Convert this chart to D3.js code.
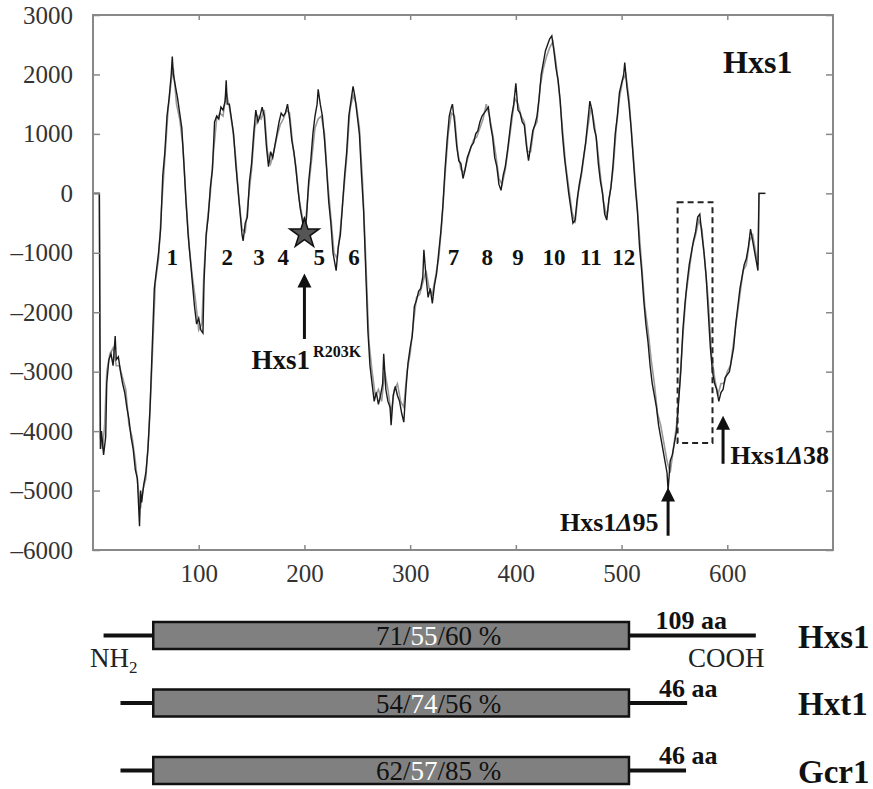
<!DOCTYPE html>
<html>
<head>
<meta charset="utf-8">
<script src="https://cdn.jsdelivr.net/npm/d3@7"></script>
<style>
  body { margin: 0; background: #fff; }
  svg text { font-family: "Liberation Serif", "Times New Roman", Times, serif; }
</style>
</head>
<body>
<div id="chart"></div>
<script>
// hydropathy profile, black trace (residue position / value)
const blackPos = [0, 6, 7, 8, 10, 12, 13, 15, 17, 19, 21, 22, 24, 26, 28, 30, 32, 34, 36, 38, 40, 42, 43, 44, 45, 46, 48, 50, 52, 54, 56, 58, 60, 62, 64, 66, 68, 70, 72, 74, 75, 76, 78, 80, 82, 84, 86, 88, 90, 92, 94, 96, 98, 100, 102, 104, 105, 107, 109, 111, 113, 115, 117, 119, 121, 123, 125, 126, 127, 129, 131, 133, 135, 137, 139, 141, 142, 144, 146, 148, 150, 152, 154, 156, 158, 160, 162, 164, 166, 168, 170, 172, 174, 176, 178, 180, 182, 184, 186, 188, 190, 192, 194, 196, 198, 200, 202, 204, 206, 208, 210, 212, 213, 215, 217, 219, 221, 223, 225, 227, 229, 230, 232, 234, 236, 238, 240, 242, 244, 246, 248, 250, 252, 254, 256, 258, 260, 262, 264, 266, 268, 270, 272, 274, 275, 277, 279, 281, 282, 284, 286, 288, 290, 292, 294, 296, 298, 300, 302, 304, 306, 308, 310, 312, 313, 315, 317, 319, 321, 323, 325, 327, 329, 331, 333, 335, 337, 339, 340, 342, 344, 346, 348, 350, 352, 354, 356, 358, 360, 362, 364, 366, 368, 370, 372, 374, 376, 378, 380, 382, 384, 386, 388, 390, 392, 394, 396, 398, 400, 402, 404, 406, 408, 410, 412, 414, 416, 418, 420, 422, 424, 426, 428, 430, 432, 434, 436, 438, 440, 442, 444, 446, 448, 450, 452, 454, 456, 458, 460, 462, 464, 466, 468, 470, 472, 474, 476, 478, 480, 482, 484, 486, 488, 490, 492, 494, 496, 498, 500, 502, 503, 505, 507, 509, 511, 513, 515, 517, 519, 521, 523, 525, 527, 529, 531, 533, 535, 537, 539, 541, 543, 544, 546, 548, 550, 552, 554, 556, 558, 560, 562, 564, 566, 568, 570, 572, 574, 576, 578, 580, 582, 584, 586, 588, 590, 592, 594, 596, 598, 600, 602, 604, 606, 608, 610, 612, 614, 616, 618, 620, 622, 624, 626, 628, 629, 630, 636];
const blackVal = [0, 0, -4300, -4000, -4400, -4100, -3200, -2800, -2700, -2900, -2400, -2800, -2750, -3000, -3200, -3350, -3600, -3800, -4100, -4300, -4650, -4800, -5200, -5600, -5000, -5200, -4900, -4700, -4300, -3600, -2600, -1600, -1300, -1000, -600, 300, 700, 1300, 1600, 2000, 2300, 2000, 1800, 1600, 1350, 1100, 500, -150, -700, -1100, -1500, -1900, -2200, -2100, -2300, -2350, -1500, -700, -400, 100, 400, 1200, 1300, 1250, 1450, 1400, 1550, 1900, 1500, 1500, 1250, 1000, 500, 100, -300, -700, -800, -500, -400, 200, 500, 1000, 1400, 1200, 1300, 1450, 1300, 800, 450, 700, 600, 800, 1000, 1200, 1350, 1300, 1350, 1500, 1250, 900, 700, 400, 50, -250, -450, -700, -400, 200, 550, 1000, 1300, 1500, 1750, 1500, 1300, 900, 400, -150, -500, -1000, -1200, -1300, -900, -700, -200, 300, 700, 1300, 1550, 1800, 1600, 1300, 1000, 300, -300, -1300, -2300, -2900, -3200, -3500, -3350, -3550, -3400, -3200, -2700, -3300, -3500, -3600, -3900, -3400, -3250, -3400, -3500, -3700, -3850, -3300, -2850, -2600, -2400, -1900, -1800, -1650, -1600, -1400, -950, -1400, -1750, -1600, -1850, -1550, -1350, -1000, -650, -200, 400, 900, 1300, 1450, 1500, 1200, 800, 550, 500, 250, 400, 600, 700, 800, 850, 1000, 1050, 1200, 1300, 1350, 1400, 1450, 1150, 950, 600, 450, 150, 50, 300, 450, 700, 1000, 1300, 1500, 1850, 1400, 1350, 1200, 1150, 800, 550, 800, 1050, 1150, 1300, 1600, 2000, 2200, 2400, 2500, 2600, 2650, 2400, 2100, 1900, 1550, 1000, 600, 300, 0, -250, -500, -450, -100, 150, 350, 600, 850, 1200, 1550, 1400, 1100, 950, 500, 200, 0, -350, -450, -100, 100, 500, 1000, 1300, 1700, 1850, 2000, 2200, 1800, 1500, 1100, 600, 100, -300, -900, -1300, -1800, -2200, -2500, -2900, -3200, -3400, -3600, -3900, -4100, -4300, -4500, -4700, -5000, -4500, -4400, -4200, -4000, -3500, -3000, -2300, -1850, -1500, -1200, -1000, -800, -650, -400, -350, -700, -1000, -1400, -2000, -2600, -3000, -3200, -3300, -3500, -3350, -3300, -3100, -3050, -3000, -2800, -2600, -2200, -1900, -1600, -1400, -1200, -1100, -900, -600, -800, -1000, -1200, -1300, 0, 0];

// second (gray) trace
const grayPos = [0, 6, 7, 9, 11, 13, 16, 19, 22, 25, 28, 31, 34, 37, 40, 43, 45, 47, 50, 53, 56, 59, 62, 65, 68, 71, 74, 76, 79, 82, 85, 88, 91, 94, 97, 100, 103, 105, 108, 111, 114, 117, 120, 123, 126, 129, 132, 135, 138, 141, 144, 147, 150, 153, 156, 159, 162, 165, 168, 171, 174, 177, 180, 183, 186, 189, 192, 195, 198, 201, 204, 207, 210, 213, 216, 219, 222, 225, 228, 231, 234, 237, 240, 243, 246, 249, 252, 255, 258, 261, 264, 267, 270, 273, 276, 279, 282, 285, 288, 291, 294, 297, 300, 303, 306, 309, 312, 315, 318, 321, 324, 327, 330, 333, 336, 339, 342, 345, 348, 351, 354, 357, 360, 363, 366, 369, 372, 375, 378, 381, 384, 387, 390, 393, 396, 399, 402, 405, 408, 411, 414, 417, 420, 423, 426, 429, 432, 435, 438, 441, 444, 447, 450, 453, 456, 459, 462, 465, 468, 471, 474, 477, 480, 483, 486, 489, 492, 495, 498, 501, 504, 507, 510, 513, 516, 519, 522, 525, 528, 531, 534, 537, 540, 543, 546, 549, 552, 555, 558, 561, 564, 567, 570, 573, 576, 579, 582, 585, 588, 591, 594, 597, 600, 603, 606, 609, 612, 615, 618, 621, 624, 627, 629, 630, 636];
const grayVal = [0, 0, -4100, -4300, -3900, -3000, -2700, -2600, -2900, -2900, -3100, -3300, -3900, -4100, -4500, -5000, -5300, -5000, -4800, -4000, -2800, -1500, -1100, -200, 600, 1400, 1900, 2100, 1500, 1250, 800, -100, -900, -1400, -1800, -2300, -2200, -1300, -500, 0, 700, 1250, 1350, 1300, 1700, 1450, 1100, 600, -100, -600, -650, -100, 400, 1100, 1300, 1250, 1400, 700, 500, 700, 950, 1150, 1250, 1400, 1350, 800, 450, -100, -400, -500, 100, 600, 1100, 1250, 1300, 1000, 200, -400, -1000, -1100, -600, 0, 600, 1400, 1650, 1500, 1100, 200, -1100, -2500, -3000, -3400, -3300, -3500, -3000, -3300, -3700, -3300, -3200, -3500, -3600, -3000, -2700, -2200, -1750, -1700, -1500, -1300, -1600, -1700, -1400, -1100, -500, 300, 1000, 1350, 1300, 700, 400, 350, 550, 750, 900, 950, 1100, 1250, 1500, 1300, 1000, 650, 250, 150, 400, 800, 1200, 1600, 1500, 1300, 1200, 700, 700, 1100, 1200, 1800, 2100, 2300, 2450, 2550, 2200, 1700, 1100, 500, 100, -300, -500, 0, 300, 700, 1100, 1450, 1200, 800, 300, -150, -400, 0, 400, 1100, 1600, 1900, 2000, 1600, 900, 200, -500, -1200, -1900, -2300, -2800, -3200, -3700, -3900, -4200, -4500, -4700, -4300, -3900, -3200, -2400, -1700, -1300, -900, -700, -450, -600, -1200, -1800, -2700, -3100, -3400, -3200, -3200, -3000, -2900, -2500, -2100, -1700, -1300, -1200, -800, -700, -1000, -1200, 0, 0];

const xTicks = [100, 200, 300, 400, 500, 600];
const yTicks = [3000, 2000, 1000, 0, -1000, -2000, -3000, -4000, -5000, -6000];

// transmembrane segment labels and their positions
const helixLabels = ['1', '2', '3', '4', '5', '6', '7', '8', '9', '10', '11', '12'];
const helixPos = [75, 127, 157, 180, 214, 247, 341, 373, 402, 436, 471, 502];
const helixLabelValue = -1200;

// mutation / truncation marks
const star = { pos: 200, value: -680 };
const arrows = [
  { pos: 200, from: -2450, to: -1350 },
  { pos: 544, from: -5760, to: -4950 },
  { pos: 596, from: -4550, to: -3740 },
];
const dashBox = { x0: 553, x1: 586, y0: -150, y1: -4200 };

// domain diagrams: N-term start, TM start, TM end, C-term end
const proteins = ['Hxs1', 'Hxt1', 'Gcr1'];
const domainStart = [10, 26, 26];
const tmStart = [57, 57, 57];
const tmEnd = [507, 507, 507];
const domainEnd = [627, 562, 561];
const identity = [['71/', '55', '/60 %'], ['54/', '74', '/56 %'], ['62/', '57', '/85 %']];
const tailLabels = ['109 aa', '46 aa', '46 aa'];

const W = 873, H = 789;
const margin = { top: 15, right: 40, bottom: 239, left: 93 };
const width = W - margin.left - margin.right;
const height = H - margin.top - margin.bottom;
const serif = '"Liberation Serif", "Times New Roman", Times, serif';

const svg = d3.select('#chart').append('svg')
  .attr('width', W)
  .attr('height', H)
  .attr('font-family', serif);

const x = d3.scaleLinear().domain([0, 700]).range([margin.left, margin.left + width]);
const y = d3.scaleLinear().domain([-6000, 3000]).range([margin.top + height, margin.top]);

const line = d3.line()
  .x((d) => x(d[0]))
  .y((d) => y(d[1]));

const plot = svg.append('g');

plot.append('path')
  .datum(d3.zip(grayPos, grayVal))
  .attr('d', line)
  .attr('fill', 'none')
  .attr('stroke', '#9a9a9a')
  .attr('stroke-width', 1.6);

plot.append('path')
  .datum(d3.zip(blackPos, blackVal))
  .attr('d', line)
  .attr('fill', 'none')
  .attr('stroke', '#1a1a1a')
  .attr('stroke-width', 1.4);

// frame with inward ticks
const frame = svg.append('g');
frame.append('rect')
  .attr('x', margin.left)
  .attr('y', margin.top)
  .attr('width', width)
  .attr('height', height)
  .attr('fill', 'none')
  .attr('stroke', '#888')
  .attr('stroke-width', 2);

const axisStyle = (g) => {
  g.attr('font-family', serif);
  g.select('.domain').remove();
  g.selectAll('.tick line').attr('stroke', '#888').attr('stroke-width', 1.5);
  g.selectAll('.tick text')
    .attr('fill', '#333')
    .attr('font-size', '25px')
    .attr('font-family', serif);
};

frame.append('g')
  .attr('transform', `translate(${margin.left},0)`)
  .call(d3.axisLeft(y).tickValues(yTicks).tickSize(-7).tickPadding(20).tickFormat((d) => (d < 0 ? `\u2013${-d}` : d)))
  .call(axisStyle);

frame.append('g')
  .attr('transform', `translate(${margin.left + width},0)`)
  .call(d3.axisRight(y).tickValues(yTicks).tickSize(-7).tickFormat(''))
  .call(axisStyle);

frame.append('g')
  .attr('transform', `translate(0,${margin.top + height})`)
  .call(d3.axisBottom(x).tickValues(xTicks).tickSize(-5).tickPadding(14))
  .call(axisStyle);

frame.append('g')
  .attr('transform', `translate(0,${margin.top})`)
  .call(d3.axisTop(x).tickValues(xTicks).tickSize(-5).tickFormat(''))
  .call(axisStyle);

// title
svg.append('text')
  .attr('x', x(596))
  .attr('y', y(2020))
  .attr('font-size', '32px')
  .attr('font-weight', 'bold')
  .attr('fill', '#111')
  .text('Hxs1');

// helix numbers
svg.selectAll('.helix')
  .data(helixLabels)
  .enter().append('text')
  .attr('class', 'helix')
  .attr('x', (d, i) => x(helixPos[i]))
  .attr('y', y(helixLabelValue))
  .attr('text-anchor', 'middle')
  .attr('font-size', '23px')
  .attr('font-weight', 'bold')
  .attr('fill', '#111')
  .text((d) => d);

// star at R203K
svg.append('path')
  .attr('d', d3.symbol(d3.symbolStar).size(270)())
  .attr('transform', `translate(${x(star.pos)},${y(star.value)})`)
  .attr('fill', '#555')
  .attr('stroke', '#111')
  .attr('stroke-width', 1.5);

// dashed box
svg.append('rect')
  .attr('x', x(dashBox.x0))
  .attr('y', y(dashBox.y0))
  .attr('width', x(dashBox.x1) - x(dashBox.x0))
  .attr('height', y(dashBox.y1) - y(dashBox.y0))
  .attr('fill', 'none')
  .attr('stroke', '#222')
  .attr('stroke-width', 2)
  .attr('stroke-dasharray', '6,4');

// arrows
arrows.forEach((a) => {
  const ax = x(a.pos);
  const y0 = y(a.from);
  const y1 = y(a.to);
  svg.append('line')
    .attr('x1', ax).attr('x2', ax)
    .attr('y1', y0).attr('y2', y1 + 10)
    .attr('stroke', '#111')
    .attr('stroke-width', 3);
  svg.append('path')
    .attr('d', `M${ax},${y1} L${ax - 7},${y1 + 14} L${ax + 7},${y1 + 14} Z`)
    .attr('fill', '#111');
});

// arrow labels
const lab1 = svg.append('text')
  .attr('x', x(150))
  .attr('y', y(-2950))
  .attr('font-size', '27px')
  .attr('font-weight', 'bold')
  .attr('fill', '#111');
lab1.append('tspan').text('Hxs1');
lab1.append('tspan').attr('font-size', '16px').attr('dy', -12).attr('dx', 3).text('R203K');

const lab2 = svg.append('text')
  .attr('x', x(535))
  .attr('y', y(-5680))
  .attr('text-anchor', 'end')
  .attr('font-size', '26px')
  .attr('font-weight', 'bold')
  .attr('fill', '#111');
lab2.append('tspan').text('Hxs1');
lab2.append('tspan').attr('font-style', 'italic').text('\u0394');
lab2.append('tspan').text('95');

const lab3 = svg.append('text')
  .attr('x', x(603))
  .attr('y', y(-4550))
  .attr('font-size', '26px')
  .attr('font-weight', 'bold')
  .attr('fill', '#111');
lab3.append('tspan').text('Hxs1');
lab3.append('tspan').attr('font-style', 'italic').text('\u0394');
lab3.append('tspan').text('38');

// domain diagrams
const rowTop = d3.scalePoint().domain(proteins).range([622, 757]);
const boxH = 27;

proteins.forEach((p, i) => {
  const top = rowTop(p);
  const mid = top + boxH / 2;
  const g = svg.append('g');
  g.append('line')
    .attr('x1', x(domainStart[i])).attr('x2', x(tmStart[i]))
    .attr('y1', mid).attr('y2', mid)
    .attr('stroke', '#111').attr('stroke-width', 4);
  g.append('line')
    .attr('x1', x(tmEnd[i])).attr('x2', x(domainEnd[i]))
    .attr('y1', mid).attr('y2', mid)
    .attr('stroke', '#111').attr('stroke-width', 4);
  g.append('rect')
    .attr('x', x(tmStart[i]))
    .attr('y', top)
    .attr('width', x(tmEnd[i]) - x(tmStart[i]))
    .attr('height', boxH)
    .attr('fill', '#808080')
    .attr('stroke', '#111')
    .attr('stroke-width', 2.5);
  const t = g.append('text')
    .attr('x', x(327))
    .attr('y', top + boxH - 4)
    .attr('text-anchor', 'middle')
    .attr('font-size', '27px')
    .attr('fill', '#111');
  t.append('tspan').text(identity[i][0]);
  t.append('tspan').attr('fill', '#fff').text(identity[i][1]);
  t.append('tspan').text(identity[i][2]);
  g.append('text')
    .attr('x', i === 0 ? x(566) : x(563))
    .attr('y', top + 7)
    .attr('text-anchor', 'middle')
    .attr('font-size', '26px')
    .attr('font-weight', 'bold')
    .attr('fill', '#111')
    .text(tailLabels[i]);
  g.append('text')
    .attr('x', 798)
    .attr('y', mid + 12)
    .attr('font-size', '33px')
    .attr('font-weight', 'bold')
    .attr('fill', '#111')
    .text(p);
});

// termini
const nh = svg.append('text')
  .attr('x', 90)
  .attr('y', rowTop('Hxs1') + boxH + 18)
  .attr('font-size', '27px')
  .attr('fill', '#222');
nh.append('tspan').text('NH');
nh.append('tspan').attr('font-size', '17px').attr('dy', 6).text('2');

svg.append('text')
  .attr('x', 688)
  .attr('y', rowTop('Hxs1') + boxH + 18)
  .attr('font-size', '27px')
  .attr('fill', '#222')
  .text('COOH');
</script>
</body>
</html>
